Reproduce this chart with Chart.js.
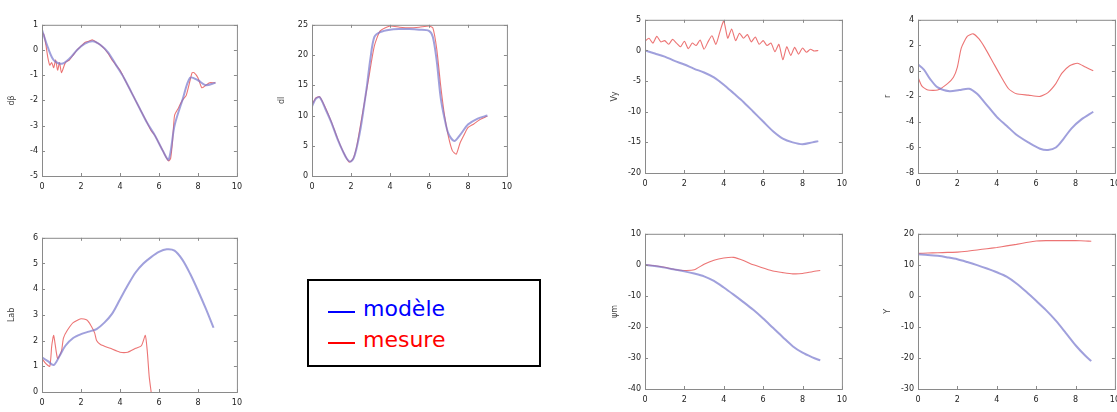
<!DOCTYPE html>
<html>
<head>
<meta charset="utf-8">
<script src="https://cdn.jsdelivr.net/npm/chart.js@4.4.0/dist/chart.umd.min.js"></script>
<style>
  body { margin: 0; width: 1117px; height: 412px; overflow: hidden; background: #fff; position: relative; }
  canvas { position: absolute; }
  #legend { position: absolute; left: 307px; top: 279px; width: 234px; height: 88px;
            box-sizing: border-box; border: 2px solid #000; font-family: "DejaVu Sans", sans-serif; }
  .entry { position: absolute; left: 54px; font-size: 22px; line-height: 1; }
  .dash { position: absolute; left: 19px; width: 27px; height: 1.5px; }
</style>
</head>
<body>
<canvas id="p1"></canvas>
<canvas id="p2"></canvas>
<canvas id="p3"></canvas>
<canvas id="p4"></canvas>
<canvas id="p5"></canvas>
<canvas id="p6"></canvas>
<canvas id="p7"></canvas>
<div id="legend">
  <div class="dash" style="top:30px;background:#0000ff"></div>
  <div class="entry" style="top:17px;color:#0000ff">modèle</div>
  <div class="dash" style="top:61px;background:#ff0000"></div>
  <div class="entry" style="top:48px;color:#ff0000">mesure</div>
</div>
<script>
// ---- data ----
const p1ModelT = [0, 0.3, 0.6, 1, 1.4, 1.8, 2.2, 2.6, 3, 3.4, 3.8, 4.2, 4.6, 5, 5.4, 5.8, 6.2, 6.5, 6.8, 7.2, 7.6, 8, 8.4, 8.9];
const p1Model = [0.8, 0.1, -0.4, -0.55, -0.35, 0.0, 0.25, 0.35, 0.2, -0.1, -0.6, -1.1, -1.7, -2.3, -2.9, -3.4, -4.0, -4.35, -3.0, -2.0, -1.1, -1.2, -1.4, -1.3];
const p1MesT = [0, 0.1, 0.2, 0.3, 0.4, 0.5, 0.6, 0.7, 0.8, 0.9, 1.0, 1.2, 1.4, 1.6, 1.8, 2.0, 2.2, 2.4, 2.6, 2.8, 3.0, 3.2, 3.4, 3.6, 3.8, 4.0, 4.2, 4.4, 4.6, 4.8, 5.0, 5.2, 5.4, 5.6, 5.8, 6.0, 6.2, 6.4, 6.5, 6.6, 6.7, 6.8, 7.0, 7.2, 7.4, 7.6, 7.7, 7.8, 8.0, 8.2, 8.4, 8.6, 8.8, 8.9];
const p1Mes = [0.7, 0.6, 0.2, -0.3, -0.6, -0.5, -0.7, -0.4, -0.8, -0.5, -0.9, -0.5, -0.4, -0.2, 0.0, 0.15, 0.3, 0.35, 0.4, 0.3, 0.2, 0.05, -0.15, -0.4, -0.6, -0.8, -1.1, -1.4, -1.7, -2.0, -2.3, -2.6, -2.9, -3.2, -3.4, -3.7, -4.0, -4.3, -4.4, -4.3, -3.6, -2.6, -2.3, -2.0, -1.8, -1.2, -0.9, -0.9, -1.1, -1.5, -1.4, -1.3, -1.3, -1.3];

const p2ModelT = [0, 0.2, 0.4, 0.7, 1.0, 1.3, 1.6, 1.8, 2.0, 2.2, 2.5, 2.8, 3.0, 3.2, 3.5, 4, 4.5, 5, 5.5, 6, 6.2, 6.4, 6.6, 6.8, 7.0, 7.3, 7.6, 8.0, 8.5, 9.0];
const p2Model = [11.5, 12.8, 13.0, 11.0, 8.8, 6.2, 4.0, 2.8, 2.4, 3.5, 8.0, 14.5, 19.5, 23.0, 23.8, 24.2, 24.3, 24.3, 24.2, 24.0, 23, 19, 13, 9.5, 7, 5.8, 6.8, 8.5, 9.5, 10];
const p2MesT = [0, 0.2, 0.4, 0.7, 1.0, 1.3, 1.6, 1.9, 2.1, 2.3, 2.6, 2.9, 3.2, 3.5, 4, 4.5, 5, 5.5, 6, 6.2, 6.4, 6.6, 6.8, 7.0, 7.2, 7.4, 7.6, 7.8, 8.0, 8.3, 8.6, 9.0];
const p2Mes = [11.8, 12.9, 13.1, 11.2, 8.9, 6.3, 4.0, 2.3, 2.8, 5.0, 10.5, 16, 21.5, 24, 24.8, 24.6, 24.5, 24.6, 24.8, 24.5, 21, 15, 10, 6.5, 4.2, 3.6, 5.5, 6.8, 8.0, 8.6, 9.3, 9.9];

const p3ModelT = [0, 0.3, 0.6, 0.9, 1.2, 1.6, 2.0, 2.4, 2.8, 3.2, 3.6, 4.0, 4.4, 4.8, 5.2, 5.6, 6.0, 6.4, 6.8, 7.2, 7.6, 8.0, 8.4, 8.8];
const p3Model = [1.35, 1.2, 1.05, 1.4, 1.8, 2.1, 2.25, 2.35, 2.45, 2.7, 3.05, 3.6, 4.15, 4.65, 5.0, 5.25, 5.45, 5.55, 5.5, 5.15, 4.6, 3.95, 3.25, 2.5];
const p3MesT = [0, 0.2, 0.4, 0.5, 0.6, 0.8, 1.0, 1.1, 1.3, 1.6, 2.0, 2.3, 2.5, 2.7, 2.8, 3.0, 3.5, 4.0, 4.4, 4.8, 5.1, 5.3, 5.4, 5.5, 5.6];
const p3Mes = [1.3, 1.1, 1.0, 1.8, 2.2, 1.3, 1.6, 2.1, 2.4, 2.7, 2.85, 2.8, 2.6, 2.3, 2.0, 1.85, 1.7, 1.55, 1.55, 1.7, 1.8, 2.2, 1.6, 0.6, 0];

const p4ModelT = [0, 0.5, 1, 1.5, 2, 2.5, 3, 3.5, 4, 4.5, 5, 5.5, 6, 6.5, 7, 7.5, 8, 8.5, 8.8];
const p4Model = [0, -0.5, -1.0, -1.7, -2.3, -3.0, -3.6, -4.4, -5.6, -7.0, -8.4, -10.0, -11.6, -13.2, -14.4, -15.0, -15.3, -15.0, -14.8];
const p4MesT = [0, 0.2, 0.4, 0.6, 0.8, 1.0, 1.2, 1.4, 1.6, 1.8, 2.0, 2.2, 2.4, 2.6, 2.8, 3.0, 3.2, 3.4, 3.6, 3.8, 4.0, 4.2, 4.4, 4.6, 4.8, 5.0, 5.2, 5.4, 5.6, 5.8, 6.0, 6.2, 6.4, 6.6, 6.8, 7.0, 7.2, 7.4, 7.6, 7.8, 8.0, 8.2, 8.4, 8.6, 8.8];
const p4Mes = [1.5, 2.0, 1.2, 2.3, 1.4, 1.6, 1.0, 1.8, 1.2, 0.6, 1.5, 0.3, 1.2, 0.8, 1.7, 0.2, 1.4, 2.4, 1.0, 3.0, 4.8, 2.0, 3.5, 1.6, 2.8, 2.0, 2.6, 1.4, 2.2, 1.0, 1.6, 0.8, 1.2, -0.2, 1.0, -1.5, 0.6, -0.8, 0.5, -0.6, 0.4, -0.3, 0.2, -0.1, 0.0];

const p5ModelT = [0, 0.3, 0.6, 1.0, 1.6, 2.1, 2.6, 3.0, 3.4, 4.0, 4.5, 5.0, 5.6, 6.2, 6.6, 7.0, 7.4, 7.8, 8.3, 8.9];
const p5Model = [0.5, 0.1, -0.6, -1.3, -1.6, -1.5, -1.4, -1.8, -2.5, -3.6, -4.3, -5.0, -5.6, -6.1, -6.2, -6.0, -5.3, -4.5, -3.8, -3.2];
const p5MesT = [0, 0.2, 0.5, 1.0, 1.5, 1.8, 2.0, 2.2, 2.5, 2.8, 3.1, 3.4, 3.8, 4.2, 4.6, 5.0, 5.6, 6.2, 6.6, 7.0, 7.3, 7.7, 8.1, 8.5, 8.9];
const p5Mes = [-0.5, -1.2, -1.5, -1.5, -1.0, -0.5, 0.3, 1.8, 2.7, 2.9, 2.5, 1.8, 0.7, -0.4, -1.4, -1.8, -1.9, -2.0, -1.7, -1.0, -0.2, 0.4, 0.6, 0.3, 0.0];

const p6T = [0, 0.5, 1, 1.5, 2, 2.5, 3, 3.5, 4, 4.5, 5, 5.5, 6, 6.5, 7, 7.5, 8, 8.5, 8.9];
const p6Model = [0, -0.4, -0.9, -1.5, -2.1, -2.8, -3.7, -5.2, -7.3, -9.6, -12.0, -14.5, -17.3, -20.3, -23.3, -26.2, -28.3, -29.8, -30.8];
const p6Mes = [0, -0.3, -0.8, -1.5, -1.8, -1.6, 0.2, 1.5, 2.2, 2.4, 1.4, 0.0, -1.0, -2.0, -2.5, -2.9, -2.8, -2.2, -1.8];

const p7T = [0, 0.5, 1, 1.5, 2, 2.5, 3, 3.5, 4, 4.5, 5, 5.5, 6, 6.5, 7, 7.5, 8, 8.5, 8.8];
const p7Model = [13.4, 13.2, 12.9, 12.4, 11.8, 10.9, 9.9, 8.8, 7.6, 6.2, 4.0, 1.3, -1.6, -4.6, -8.0, -11.9, -15.9, -19.3, -21.0];
const p7Mes = [13.7, 13.8, 13.9, 14.0, 14.1, 14.4, 14.8, 15.2, 15.6, 16.1, 16.6, 17.2, 17.7, 17.8, 17.8, 17.8, 17.8, 17.7, 17.6];

const xTicks = [0, 2, 4, 6, 8, 10];

// ---- drawing ----
const modelColor = 'rgba(120,120,205,0.7)';
const mesColor = 'rgba(230,70,70,0.75)';
const tickFont = { family: 'DejaVu Sans', size: 8 };

const pts = (t, v) => t.map((x, i) => ({ x: x, y: v[i] }));

// MATLAB-like box with inward ticks
const boxPlugin = {
  id: 'box',
  afterDraw(chart) {
    const { ctx, chartArea: a, scales } = chart;
    ctx.save();
    ctx.strokeStyle = '#8a8a8a';
    ctx.lineWidth = 1;
    ctx.strokeRect(a.left + 0.5, a.top + 0.5, a.right - a.left, a.bottom - a.top);
    ctx.beginPath();
    scales.x.ticks.forEach(t => {
      const px = Math.round(scales.x.getPixelForValue(t.value)) + 0.5;
      ctx.moveTo(px, a.bottom); ctx.lineTo(px, a.bottom - 3);
      ctx.moveTo(px, a.top); ctx.lineTo(px, a.top + 3);
    });
    scales.y.ticks.forEach(t => {
      const py = Math.round(scales.y.getPixelForValue(t.value)) + 0.5;
      ctx.moveTo(a.left, py); ctx.lineTo(a.left + 3, py);
      ctx.moveTo(a.right, py); ctx.lineTo(a.right - 3, py);
    });
    ctx.stroke();
    ctx.restore();
  }
};

function makePlot(id, L, T, R, B, yMin, yMax, yStep, yLabel, model, mes) {
  const cv = document.getElementById(id);
  cv.width = R - L + 45;
  cv.height = B - T + 24;
  cv.style.left = (L - 35) + 'px';
  cv.style.top = (T - 6) + 'px';
  new Chart(cv, {
    type: 'line',
    data: {
      datasets: [
        { label: 'modèle', data: model, borderColor: modelColor, borderWidth: 2, pointRadius: 0, tension: 0.3, fill: false },
        { label: 'mesure', data: mes, borderColor: mesColor, borderWidth: 1.1, pointRadius: 0, tension: 0.2, fill: false }
      ]
    },
    options: {
      responsive: false,
      animation: false,
      devicePixelRatio: 1,
      layout: { padding: { top: 6, right: 10, left: 0, bottom: 0 } },
      plugins: { legend: { display: false }, tooltip: { enabled: false } },
      scales: {
        x: {
          type: 'linear', min: 0, max: 10,
          afterBuildTicks: s => { s.ticks = xTicks.map(v => ({ value: v })); },
          afterFit: s => { s.height = 18; },
          grid: { display: false, drawTicks: false },
          border: { display: false },
          ticks: { font: tickFont, color: '#222', padding: 6, maxRotation: 0 }
        },
        y: {
          min: yMin, max: yMax,
          afterFit: s => { s.width = 35; },
          grid: { display: false, drawTicks: false },
          border: { display: false },
          ticks: { stepSize: yStep, font: tickFont, color: '#222', padding: 4 },
          title: { display: true, text: yLabel, font: { family: 'DejaVu Sans', size: 8 }, color: '#444', padding: 0 }
        }
      }
    },
    plugins: [boxPlugin]
  });
}

makePlot('p1', 42, 22, 238, 176, -5, 1, 1, 'dβ', pts(p1ModelT, p1Model), pts(p1MesT, p1Mes));
makePlot('p2', 312, 22, 508, 176, 0, 25, 5, 'dl', pts(p2ModelT, p2Model), pts(p2MesT, p2Mes));
makePlot('p3', 42, 235, 238, 392, 0, 6, 1, 'Lab', pts(p3ModelT, p3Model), pts(p3MesT, p3Mes));
makePlot('p4', 645, 17, 843, 173, -20, 5, 5, 'Vy', pts(p4ModelT, p4Model), pts(p4MesT, p4Mes));
makePlot('p5', 918, 17, 1116, 173, -8, 4, 2, 'r', pts(p5ModelT, p5Model), pts(p5MesT, p5Mes));
makePlot('p6', 645, 231, 843, 389, -40, 10, 10, 'ψm', pts(p6T, p6Model), pts(p6T, p6Mes));
makePlot('p7', 918, 231, 1116, 389, -30, 20, 10, 'Y', pts(p7T, p7Model), pts(p7T, p7Mes));
</script>
</body>
</html>
